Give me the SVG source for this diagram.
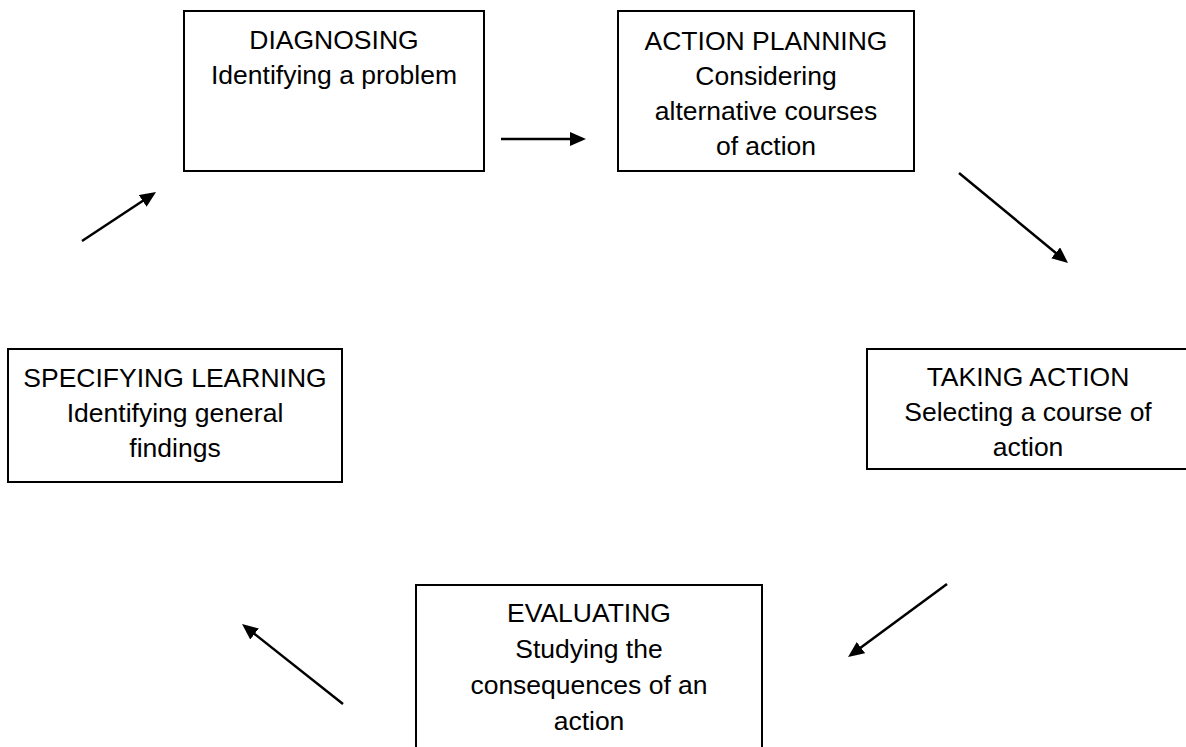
<svg xmlns="http://www.w3.org/2000/svg" width="1186" height="747" viewBox="0 0 1186 747">
<style>
.box{fill:#fff;stroke:#000;stroke-width:2}
.t{font-family:"Liberation Sans",Arial,sans-serif;font-size:26.5px;fill:#000;text-anchor:middle}
.c{stroke:#000;stroke-width:2.5;fill:none;marker-end:url(#ah)}
</style>
<defs>
<marker id="ah" markerUnits="userSpaceOnUse" markerWidth="18" markerHeight="16" refX="3" refY="7" orient="auto" viewBox="0 0 18 16">
<path d="M0,0 L16,7 L0,14 z" fill="#000"/>
</marker>
</defs>
<rect width="1186" height="747" fill="#fff"/>
<g id="diagnosing">
<rect class="box" x="184" y="11" width="300" height="160"/>
<text class="t" x="334" y="49">DIAGNOSING</text>
<text class="t" x="334" y="84">Identifying a problem</text>
</g>
<g id="action-planning">
<rect class="box" x="618" y="11" width="296" height="160"/>
<text class="t" x="766" y="50">ACTION PLANNING</text>
<text class="t" x="766" y="85">Considering</text>
<text class="t" x="766" y="120">alternative courses</text>
<text class="t" x="766" y="155">of action</text>
</g>
<g id="taking-action">
<rect class="box" x="867" y="349" width="324" height="120"/>
<text class="t" x="1028" y="386">TAKING ACTION</text>
<text class="t" x="1028" y="421">Selecting a course of</text>
<text class="t" x="1028" y="456">action</text>
</g>
<g id="evaluating">
<rect class="box" x="416" y="585" width="346" height="175"/>
<text class="t" x="589" y="622">EVALUATING</text>
<text class="t" x="589" y="658">Studying the</text>
<text class="t" x="589" y="694">consequences of an</text>
<text class="t" x="589" y="730">action</text>
</g>
<g id="specifying-learning">
<rect class="box" x="8" y="349" width="334" height="133"/>
<text class="t" x="175" y="387">SPECIFYING LEARNING</text>
<text class="t" x="175" y="422">Identifying general</text>
<text class="t" x="175" y="457">findings</text>
</g>
<g id="connectors">
<line class="c" x1="501" y1="139" x2="573" y2="139"/>
<line class="c" x1="959" y1="173" x2="1058" y2="254.7"/>
<line class="c" x1="947" y1="584" x2="858.5" y2="649.3"/>
<line class="c" x1="343" y1="704" x2="252.2" y2="632.1"/>
<line class="c" x1="82" y1="241" x2="145.2" y2="199.2"/>
</g>
</svg>
